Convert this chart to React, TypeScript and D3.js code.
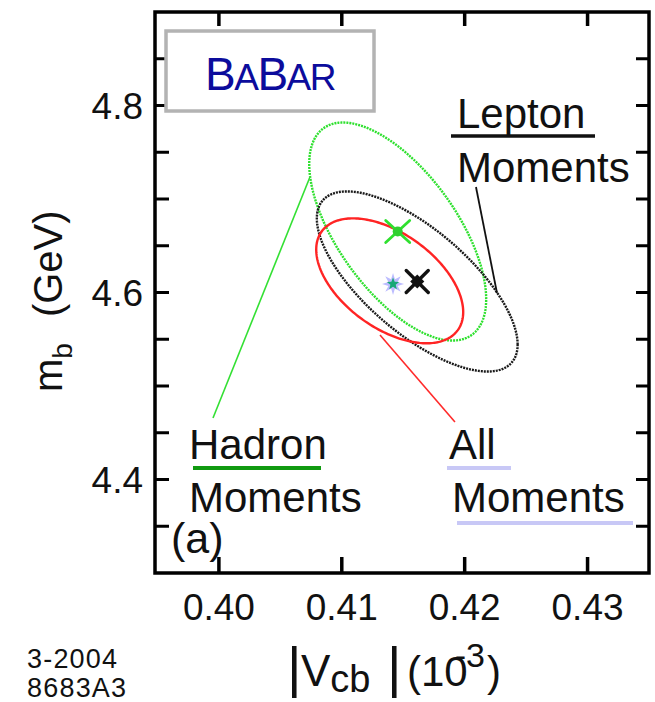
import React from "react";
import * as d3 from "d3";

// Fit results: |Vcb| (10^-3 scaled) vs m_b, with 1-sigma error ellipses
const fitNames = ["Hadron Moments", "Lepton Moments", "All Moments"];
const fitVcb = [0.41455, 0.41614, 0.4139];
const fitMb = [4.6652, 4.6118, 4.6125];
const fitSigmaVcb = [0.0072, 0.00817, 0.00598];
const fitSigmaMb = [0.1166, 0.0963, 0.0668];
const fitRho = [-0.62, -0.7, -0.5];
const fitColors = ["#2fe02f", "#1a1a1a", "#ff2424"];
const fitDash = ["2 1", "2 1", null];

// Reference point (star) near the combined fit
const starVcb = 0.41417;
const starMb = 4.6091;

const xTicks = [0.4, 0.41, 0.42, 0.43];
const xTickLabels = ["0.40", "0.41", "0.42", "0.43"];
const yTicks = [4.4, 4.6, 4.8];
const yTickLabels = ["4.4", "4.6", "4.8"];
const yMinorTicks = [4.35, 4.4, 4.45, 4.5, 4.55, 4.6, 4.65, 4.7, 4.75, 4.8, 4.85];

// Callout leader lines (data units): [vcb0, mb0, vcb1, mb1]
const leaderHadron = [0.40741, 4.7235, 0.39952, 4.4658];
const leaderLepton = [0.42092, 4.7128, 0.42263, 4.5995];
const leaderAll = [0.41311, 4.5545, 0.41921, 4.4615];

const W = 655;
const H = 702;
const L = 155, R = 649, T = 12, B = 573;
const FONT = "'Liberation Sans', Arial, Helvetica, sans-serif";

const x = d3.scaleLinear().domain([0.3948, 0.435]).range([L, R]);
const y = d3.scaleLinear().domain([4.3, 4.9]).range([B, T]);

function ellipsePath(i: number) {
  const n = 240;
  const pts: [number, number][] = [];
  const r = fitRho[i];
  for (let k = 0; k <= n; k++) {
    const t = (2 * Math.PI * k) / n;
    const v = fitVcb[i] + fitSigmaVcb[i] * Math.cos(t);
    const m = fitMb[i] + fitSigmaMb[i] * (r * Math.cos(t) + Math.sqrt(1 - r * r) * Math.sin(t));
    pts.push([x(v), y(m)]);
  }
  return d3.line()(pts) as string;
}

function starPoints(cx: number, cy: number, n: number, ro: number, ri: number) {
  const pts: string[] = [];
  for (let k = 0; k < 2 * n; k++) {
    const a = -Math.PI / 2 + (Math.PI * k) / n;
    const rr = k % 2 === 0 ? ro : ri;
    pts.push(`${cx + rr * Math.cos(a)},${cy + rr * Math.sin(a)}`);
  }
  return pts.join(" ");
}

function Leader({ d, color, w }: { d: number[]; color: string; w: number }) {
  return (
    <line x1={x(d[0])} y1={y(d[1])} x2={x(d[2])} y2={y(d[3])} stroke={color} strokeWidth={w} />
  );
}

export default function App() {
  const gx = x(fitVcb[0]), gy = y(fitMb[0]);
  const bx = x(fitVcb[1]), by = y(fitMb[1]);
  const rx = x(fitVcb[2]), ry = y(fitMb[2]);
  const sx = x(starVcb), sy = y(starMb);

  return (
    <svg
      width={W}
      height={H}
      viewBox={`0 0 ${W} ${H}`}
      style={{ position: "absolute", left: 0, top: 0, background: "#fff" }}
      fontFamily={FONT}
    >
      <rect x={0} y={0} width={W} height={H} fill="#fff" />

      {/* ellipses */}
      {fitNames.map((name, i) => (
        <path
          key={name}
          d={ellipsePath(i)}
          fill="none"
          stroke={fitColors[i]}
          strokeWidth={2.4}
          strokeDasharray={fitDash[i] ?? undefined}
        />
      ))}

      {/* leader lines */}
      <Leader d={leaderHadron} color="#33e033" w={1.6} />
      <Leader d={leaderLepton} color="#111" w={1.8} />
      <Leader d={leaderAll} color="#ff2a2a" w={1.6} />

      {/* Hadron fit marker */}
      <g stroke="#2fe02f" strokeWidth={2.8} strokeLinecap="round">
        <line x1={gx - 12} y1={gy - 11} x2={gx + 12} y2={gy + 11} />
        <line x1={gx + 12} y1={gy - 11} x2={gx - 12} y2={gy + 11} />
      </g>
      <circle cx={gx} cy={gy} r={5} fill="#2fd02f" />

      {/* Lepton fit marker */}
      <g stroke="#111" strokeWidth={3.4} strokeLinecap="round">
        <line x1={bx - 11} y1={by - 11} x2={bx + 11} y2={by + 11} />
        <line x1={bx + 11} y1={by - 11} x2={bx - 11} y2={by + 11} />
      </g>
      <rect x={bx - 5} y={by - 5} width={10} height={10} fill="#111" transform={`rotate(45 ${bx} ${by})`} />

      {/* combined fit and reference star */}
      <circle cx={rx} cy={ry} r={1.6} fill="#ff3030" />
      <polygon points={starPoints(sx, sy, 8, 11, 5)} fill="#bcbcff" />
      <polygon points={starPoints(sx, sy, 5, 6.5, 2.8)} fill="#18a878" />

      {/* frame */}
      <rect x={L} y={T} width={R - L} height={B - T} fill="none" stroke="#000" strokeWidth={3.5} />

      {/* ticks */}
      {xTicks.map((t) => (
        <g key={"xt" + t} stroke="#000" strokeWidth={3.5}>
          <line x1={x(t)} x2={x(t)} y1={B} y2={B - 16} />
          <line x1={x(t)} x2={x(t)} y1={T} y2={T + 14} />
        </g>
      ))}
      {yMinorTicks.map((t) => (
        <g key={"yt" + t} stroke="#000" strokeWidth={3}>
          <line x1={L} x2={L + 14} y1={y(t)} y2={y(t)} />
          <line x1={R} x2={R - 13} y1={y(t)} y2={y(t)} />
        </g>
      ))}

      {/* tick labels */}
      {xTicks.map((t, i) => (
        <text key={"xl" + t} x={x(t)} y={620} fontSize={37} textAnchor="middle" fill="#111">
          {xTickLabels[i]}
        </text>
      ))}
      {yTicks.map((t, i) => (
        <text key={"yl" + t} x={143} y={y(t) + 13} fontSize={37} textAnchor="end" fill="#111">
          {yTickLabels[i]}
        </text>
      ))}

      {/* axis titles */}
      <text transform="translate(62,392) rotate(-90)" fontSize={40} fill="#111">
        m<tspan fontSize={28} dy={10}>b</tspan>
        <tspan dy={-10} dx={26} fontSize={40}>(GeV)</tspan>
      </text>

      <text x={287} y={686} fontSize={56} fill="#111">|</text>
      <text x={301} y={686} fontSize={44} fill="#111">
        V<tspan fontSize={38} dy={6}>cb</tspan>
      </text>
      <text x={387} y={686} fontSize={56} fill="#111">|</text>
      <text x={407} y={686} fontSize={42} fill="#111">
        (10<tspan fontSize={34} dy={-19} dx={-13}>-3</tspan>
        <tspan dy={19} dx={2} fontSize={42}>)</tspan>
      </text>

      {/* BaBar logo */}
      <rect x={166} y={31} width={208} height={80} fill="#fff" stroke="#b3b3b3" strokeWidth={3.5} />
      <text x={205} y={90} fill="#0c0c9c" letterSpacing={-1.5}>
        <tspan fontSize={46}>B</tspan>
        <tspan fontSize={37}>A</tspan>
        <tspan fontSize={46}>B</tspan>
        <tspan fontSize={37}>AR</tspan>
      </text>

      {/* annotations */}
      <text x={457} y={128} fontSize={42} fill="#111">Lepton</text>
      <line x1={451} x2={595} y1={136} y2={136} stroke="#111" strokeWidth={3.5} />
      <text x={457} y={182} fontSize={42} fill="#111">Moments</text>

      <text x={189} y={459} fontSize={42} fill="#111">Hadron</text>
      <line x1={193} x2={321} y1={468} y2={468} stroke="#119a11" strokeWidth={4} />
      <text x={189} y={512} fontSize={42} fill="#111">Moments</text>

      <text x={449} y={459} fontSize={42} fill="#111">All</text>
      <line x1={447} x2={511} y1={468} y2={468} stroke="#c8c8f6" strokeWidth={4} />
      <text x={452} y={512} fontSize={42} fill="#111">Moments</text>
      <line x1={457} x2={633} y1={523} y2={523} stroke="#c8c8f6" strokeWidth={4} />

      <text x={171} y={553} fontSize={43} fill="#111">(a)</text>

      <text x={27} y={668} fontSize={27} letterSpacing={1.2} fill="#111">3-2004</text>
      <text x={27} y={697} fontSize={27} letterSpacing={1.2} fill="#111">8683A3</text>
    </svg>
  );
}
